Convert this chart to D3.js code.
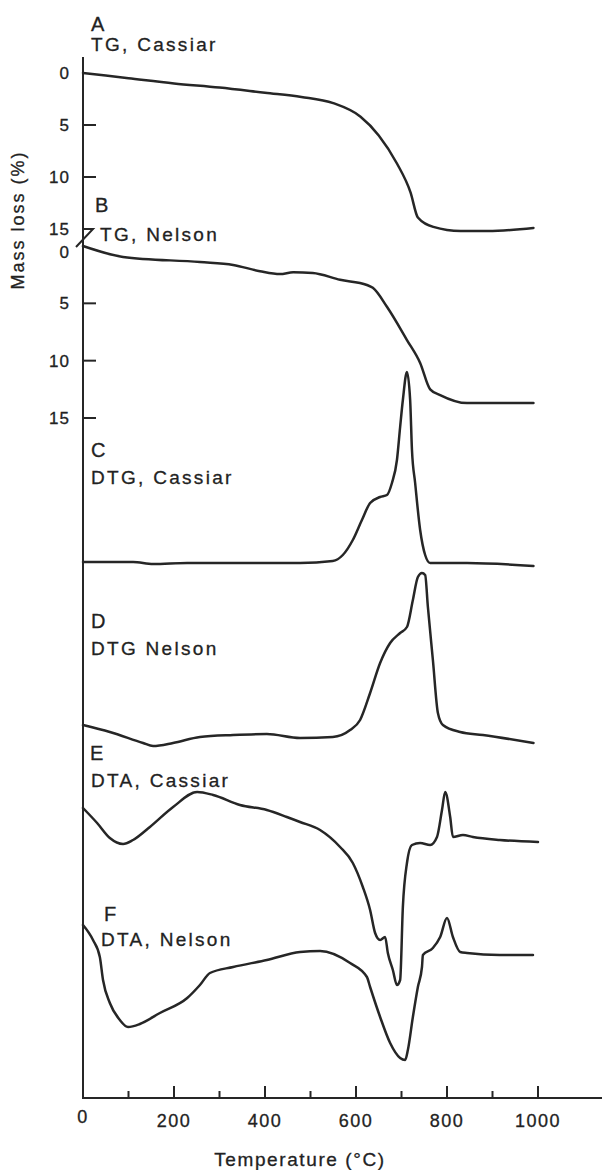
<!DOCTYPE html>
<html>
<head>
<meta charset="utf-8">
<script src="https://cdn.jsdelivr.net/npm/d3@7"></script>
<style>
  html, body { margin: 0; padding: 0; background: #fff; }
  svg { display: block; }
  text { font-family: "Liberation Sans", Arial, Helvetica, sans-serif; fill: #222; }
</style>
</head>
<body>
<svg id="chart" width="607" height="1170"></svg>
<script>
// ---- Data (temperature °C, value) ----
const xTicks = [0, 100, 200, 300, 400, 500, 600, 700, 800, 900, 1000];
const xTickLabels = [0, 200, 400, 600, 800, 1000];
const massTicks = [0, 5, 10, 15];

// A: TG, Cassiar (mass loss %)
const tgCassiar = [[0,0],[100,0.5],[200,1.0],[300,1.4],[400,1.9],[480,2.3],[550,2.9],[610,4.2],[650,6.0],[690,8.7],[720,11.5],[736,13.9],[770,14.8],[830,15.2],[890,15.2],[990,14.9]];
// B: TG, Nelson (mass loss %)
const tgNelson = [[0,0],[88,0.95],[257,1.4],[330,1.65],[389,2.2],[433,2.45],[462,2.3],[505,2.35],[565,2.95],[624,3.4],[637,3.65],[668,5.3],[712,8.2],[741,10.2],[763,12.5],[785,13.0],[844,13.7],[990,13.7]];
// C: DTG, Cassiar (arbitrary units)
const dtgCassiar = [[0,1],[110,1],[154,-1],[229,0],[316,0],[477,0],[549,2],[571,8],[593,23],[613,43],[631,60],[653,66],[668,68],[679,80],[690,103],[697,136],[703,163],[712,191],[719,163],[723,113],[730,80],[741,33],[752,8],[763,0],[844,0],[990,-3]];
// D: DTG Nelson (arbitrary units)
const dtgNelson = [[0,13],[59,6],[132,-5],[154,-8],[198,-5],[257,1],[330,3],[404,4],[477,0],[549,1],[587,8],[609,18],[631,45],[653,75],[675,95],[697,105],[712,111],[725,138],[736,161],[745,165],[752,163],[758,131],[769,78],[780,25],[791,13],[829,6],[879,3],[990,-5]];
// E: DTA, Cassiar (arbitrary units)
const dtaCassiar = [[0,34],[31,19],[59,4],[88,-2],[110,2],[147,15],[198,35],[251,50],[286,47],[345,37],[404,32],[448,25],[477,20],[521,12],[565,-5],[593,-21],[615,-45],[631,-68],[642,-91],[653,-98],[664,-95],[670,-111],[681,-128],[690,-143],[697,-138],[703,-65],[712,-21],[723,-3],[741,-1],[763,-3],[778,5],[789,32],[796,50],[807,25],[813,5],[835,7],[857,5],[916,2],[1000,0]];
// F: DTA, Nelson (arbitrary units)
const dtaNelson = [[0,30],[22,15],[37,-2],[44,-25],[59,-48],[81,-65],[99,-72],[125,-69],[169,-58],[229,-43],[257,-30],[279,-18],[330,-12],[404,-5],[477,3],[521,4],[587,-8],[624,-22],[631,-32],[653,-62],[675,-88],[697,-103],[708,-105],[714,-95],[725,-62],[736,-32],[745,-12],[747,0],[769,7],[785,18],[800,37],[813,18],[829,3],[844,2],[916,0],[989,0]];

const curveLabels = [
  {letter: "A", name: "TG, Cassiar"},
  {letter: "B", name: "TG, Nelson"},
  {letter: "C", name: "DTG, Cassiar"},
  {letter: "D", name: "DTG Nelson"},
  {letter: "E", name: "DTA, Cassiar"},
  {letter: "F", name: "DTA, Nelson"}
];

// ---- Layout ----
const svg = d3.select("#chart");
const ink = "#262626";
const axisY = 1098, axisTop = 57;
const x = d3.scaleLinear().domain([0, 1000]).range([83, 538]);

const yA = d3.scaleLinear().domain([0, 15]).range([73, 229]);
const yB = d3.scaleLinear().domain([0, 15]).range([246, 418]);
const yC = d3.scaleLinear().domain([0, 100]).range([563, 463]);
const yD = d3.scaleLinear().domain([0, 100]).range([738, 638]);
const yE = d3.scaleLinear().domain([0, 100]).range([842, 742]);
const yF = d3.scaleLinear().domain([0, 100]).range([955, 855]);

const series = [
  {data: tgCassiar, y: yA},
  {data: tgNelson, y: yB},
  {data: dtgCassiar, y: yC},
  {data: dtgNelson, y: yD},
  {data: dtaCassiar, y: yE},
  {data: dtaNelson, y: yF}
];

// Axes lines
svg.append("line").attr("x1", x(0)).attr("x2", x(0)).attr("y1", axisTop).attr("y2", axisY)
  .attr("stroke", ink).attr("stroke-width", 2);
svg.append("line").attr("x1", x(0) - 1).attr("x2", 602).attr("y1", axisY).attr("y2", axisY)
  .attr("stroke", ink).attr("stroke-width", 2.2);

// X ticks (upward)
svg.selectAll(".xt").data(xTicks.filter(d => d > 0)).join("line")
  .attr("x1", d => x(d)).attr("x2", d => x(d))
  .attr("y1", axisY).attr("y2", d => axisY - (d % 200 === 0 ? 12 : 7))
  .attr("stroke", ink).attr("stroke-width", 2);
svg.selectAll(".xl").data(xTickLabels).join("text")
  .attr("x", d => x(d)).attr("y", d => d === 0 ? 1123 : 1127)
  .attr("text-anchor", "middle").attr("font-size", 18).attr("letter-spacing", 1.5)
  .attr("stroke", "#222").attr("stroke-width", 0.3)
  .text(d => d);

svg.append("text").attr("x", 300).attr("y", 1166).attr("text-anchor", "middle")
  .attr("font-size", 19).attr("letter-spacing", 1.6)
  .attr("stroke", "#222").attr("stroke-width", 0.3).text("Temperature (°C)");

// Y label
svg.append("text").attr("transform", "translate(24,220) rotate(-90)")
  .attr("text-anchor", "middle").attr("font-size", 18).attr("letter-spacing", 2)
  .attr("stroke", "#222").attr("stroke-width", 0.3)
  .text("Mass loss (%)");

// Y ticks for A and B
[{s: yA, ticks: [5, 10]}, {s: yB, ticks: [5, 10, 15]}].forEach(g => {
  svg.selectAll(null).data(g.ticks).join("line")
    .attr("x1", x(0)).attr("x2", x(0) + 13)
    .attr("y1", d => g.s(d)).attr("y2", d => g.s(d))
    .attr("stroke", ink).attr("stroke-width", 2);
});
[{s: yA, zeroShift: 0}, {s: yB, zeroShift: 6}].forEach(g => {
  svg.selectAll(null).data(massTicks).join("text")
    .attr("x", 70).attr("y", d => g.s(d) + (d === 0 ? g.zeroShift : 0)).attr("dy", "0.36em")
    .attr("text-anchor", "end").attr("font-size", 17).attr("letter-spacing", 1)
    .attr("stroke", "#222").attr("stroke-width", 0.3)
    .text(d => d);
});
// Axis break mark at A = 15
svg.append("path")
  .attr("d", `M${x(0)},${yA(15)} H${x(0) + 10} L${x(0) - 7},${yA(15) + 18}`)
  .attr("fill", "none").attr("stroke", ink).attr("stroke-width", 2);

// Curves
const line = d3.line().curve(d3.curveMonotoneX);
series.forEach(s => {
  svg.append("path")
    .attr("d", line.x(d => x(d[0])).y(d => s.y(d[1]))(s.data))
    .attr("fill", "none").attr("stroke", ink).attr("stroke-width", 2.5)
    .attr("stroke-linejoin", "round").attr("stroke-linecap", "round");
});

// Curve labels
const labelPos = [
  {lx: 91, ly: 31, nx: 91, ny: 51},
  {lx: 95, ly: 212, nx: 100, ny: 241},
  {lx: 91, ly: 457, nx: 91, ny: 484},
  {lx: 91, ly: 628, nx: 91, ny: 655},
  {lx: 90, ly: 760, nx: 91, ny: 787},
  {lx: 104, ly: 921, nx: 101, ny: 946}
];
curveLabels.forEach((c, i) => {
  const p = labelPos[i];
  svg.append("text").attr("x", p.lx).attr("y", p.ly).attr("font-size", 20)
    .attr("stroke", "#222").attr("stroke-width", 0.3).text(c.letter);
  svg.append("text").attr("x", p.nx).attr("y", p.ny).attr("font-size", 19)
    .attr("letter-spacing", 2.3).attr("stroke", "#222").attr("stroke-width", 0.3)
    .text(c.name);
});
</script>
</body>
</html>
